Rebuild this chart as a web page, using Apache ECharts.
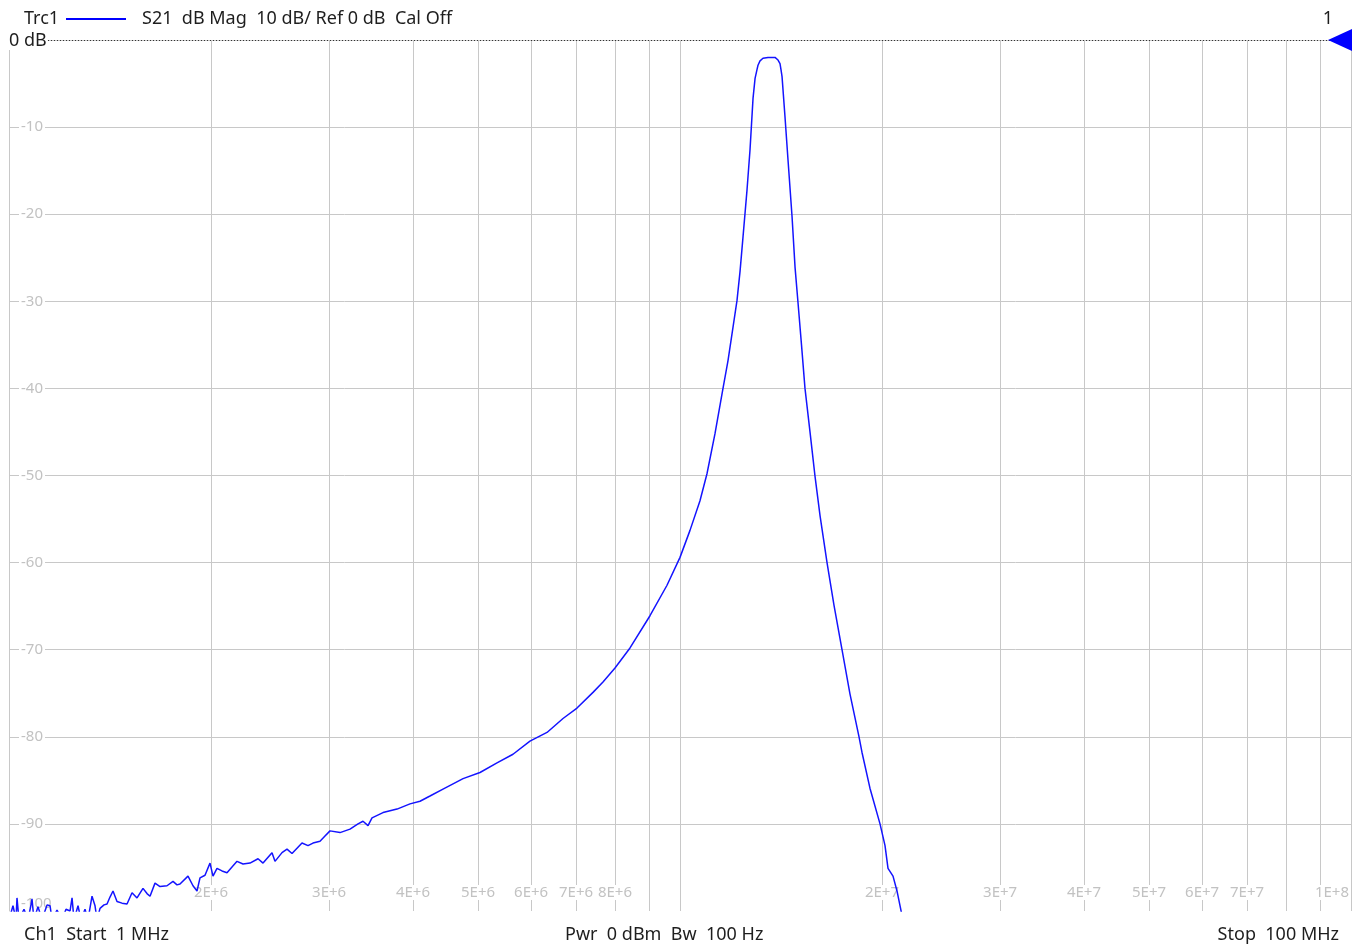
<!DOCTYPE html>
<html><head><meta charset="utf-8">
<script src="https://cdn.jsdelivr.net/npm/echarts@6/dist/echarts.min.js"></script>
<style>html,body{margin:0;padding:0;background:#fff;}#c{width:1359px;height:948px;}</style>
</head><body><div id="c"></div>
<script>
// Frequency of each trace point (MHz)
const freqMHz = [
  1.000, 1.0138, 1.0243, 1.0278, 1.0349, 1.0528, 1.0674, 1.0784, 1.0821, 1.0895,
  1.1046, 1.1199, 1.1395, 1.1513, 1.1592, 1.1791, 1.1995, 1.2161, 1.2330, 1.2415,
  1.2500, 1.2672, 1.2803, 1.2980, 1.3114, 1.3296, 1.3434, 1.3526, 1.3666, 1.3855,
  1.3999, 1.4143, 1.4289, 1.4487, 1.4738, 1.4993, 1.5253, 1.5516, 1.5838, 1.6057,
  1.6224, 1.6504, 1.6790, 1.7198, 1.7556, 1.7798, 1.7982, 1.8483, 1.8803, 1.9063,
  1.9260, 1.9593, 1.9932, 2.0138, 2.0417, 2.0771, 2.1130, 2.1868, 2.2323, 2.2866,
  2.3504, 2.3911, 2.4658, 2.4913, 2.5519, 2.5961, 2.6410, 2.7332, 2.7900, 2.8383,
  2.9073, 2.9575, 3.0087, 3.1139, 3.2226, 3.3124, 3.3697, 3.4281, 3.4754, 3.6091,
  3.7869, 3.9593, 4.0975, 4.2405, 4.4340, 4.7500, 5.0343, 5.3366, 5.6380, 5.9759,
  6.3357, 6.6933, 7.0225, 7.4190, 7.6778, 8.0008, 8.4235, 9.0214, 9.5639, 10.000,
  10.349, 10.710, 10.970, 11.276, 11.590, 11.791, 11.994, 12.161, 12.287, 12.414,
  12.586, 12.716, 12.848, 12.938, 13.024, 13.069, 13.160, 13.295, 13.526, 13.855,
  13.999, 14.094, 14.142, 14.193, 14.340, 14.488, 14.689, 14.841, 14.994, 15.173,
  15.356, 15.622, 15.894, 16.169,
  16.562, 16.964, 17.436, 17.921, 18.484, 18.675, 19.191, 19.865, 20.209, 20.417,
  20.771, 21.056, 21.421
];
// S21 magnitude (dB)
const s21dB = [
  -101, -99.4, -101, -98.5, -101, -99.8, -101, -99.3, -98.6, -101,
  -99.5, -101, -99.3, -99.4, -101, -99.9, -101, -99.8, -100.0, -98.5,
  -101, -99.4, -101, -99.8, -101, -98.3, -99.4, -101, -99.7, -99.3,
  -99.2, -98.4, -97.7, -98.9, -99.1, -99.2, -97.9, -98.5, -97.4, -98.0,
  -98.3, -96.8, -97.2, -97.1, -96.6, -97.0, -96.9, -96.0, -97.1, -97.7,
  -96.2, -95.9, -94.5, -96.0, -95.1, -95.4, -95.6, -94.3, -94.6, -94.5,
  -94.0, -94.5, -93.3, -94.3, -93.3, -92.9, -93.4, -92.2, -92.5, -92.2,
  -92.0, -91.4, -90.8, -91.0, -90.6, -90.0, -89.7, -90.2, -89.3, -88.7,
  -88.3, -87.7, -87.4, -86.8, -86.0, -84.8, -84.1, -83.0, -82.0, -80.5,
  -79.5, -77.9, -76.7, -74.9, -73.7, -72.1, -69.8, -66.1, -62.6, -59.4,
  -56.3, -52.9, -49.8, -45.2, -40.0, -36.8, -33.0, -29.9, -26.6, -22.6,
  -17.2, -12.6, -6.7, -4.4, -3.4, -2.9, -2.4, -2.1, -2.0, -2.0,
  -2.3, -2.7, -3.4, -4.2, -8.9, -13.8, -20.3, -26.1, -30.2, -35.0,
  -40.0, -45.0, -50.1, -54.6,
  -60.0, -64.9, -70.0, -75.1, -80.0, -81.8, -85.9, -90.0, -92.5, -95.1,
  -96.0, -97.7, -100.5
];
const xGridValues = [2e6,3e6,4e6,5e6,6e6,7e6,8e6,9e6,1e7,2e7,3e7,4e7,5e7,6e7,7e7,8e7,9e7,1e8];
const xLabelValues = [2e6,3e6,4e6,5e6,6e6,7e6,8e6,2e7,3e7,4e7,5e7,6e7,7e7,1e8];
const yGridValues = [-90,-80,-70,-60,-50,-40,-30,-20,-10];
const yLabelValues = [-100,-90,-80,-70,-60,-50,-40,-30,-20,-10];
const refLevelDb = 0;
const traceName = 'Trc1';
const headerText = 'S21  dB Mag  10 dB/ Ref 0 dB  Cal Off';
const markerNumber = '1';
const refLabel = '0 dB';
const footerLeft = 'Ch1  Start  1 MHz';
const footerMid = 'Pwr  0 dBm  Bw  100 Hz';
const footerRight = 'Stop  100 MHz';

const FONT = '"Noto Sans", "Open Sans", sans-serif';
const GRID = '#c8c8c8';
const LBL = '#c2c2c2';
const TXT = '#1e1e1e';
const TRACE = '#1414ff';
const TFONT = '18px ' + FONT;

const seriesData = freqMHz.map((f, i) => [f * 1e6, s21dB[i]]);

function fmtE(v) {
  const e = Math.floor(Math.log10(v) + 1e-9);
  const m = Math.round(v / Math.pow(10, e));
  return m + 'E+' + e;
}

const chart = echarts.init(document.getElementById('c'), null, {renderer: 'canvas'});
chart.setOption({
  animation: false,
  backgroundColor: '#fff',
  textStyle: {fontFamily: FONT},
  grid: {left: 9, right: 8, top: 40, bottom: 37, containLabel: false},
  xAxis: {
    type: 'log', logBase: 10, min: 1e6, max: 1e8,
    axisLine: {show: true, lineStyle: {color: GRID, width: 1}},
    axisTick: {show: false, customValues: xGridValues},
    minorTick: {show: false},
    splitLine: {show: true, lineStyle: {color: GRID, width: 1}},
    axisLabel: {
      show: true, inside: true, customValues: xLabelValues, margin: 11,
      color: LBL, fontSize: 15, fontFamily: FONT,
      backgroundColor: '#fff', padding: [0, 2],
      formatter: fmtE, alignMaxLabel: 'right'
    }
  },
  yAxis: {
    type: 'value', min: -100, max: 0, interval: 10,
    axisLine: {show: true, lineStyle: {color: GRID, width: 1}},
    axisTick: {show: false, customValues: yGridValues},
    splitLine: {show: true, lineStyle: {color: GRID, width: 1}},
    axisLabel: {
      show: true, inside: true, customValues: yLabelValues, margin: 10,
      color: LBL, fontSize: 15, fontFamily: FONT,
      backgroundColor: '#fff', padding: [0, 2],
      verticalAlignMinLabel: 'bottom'
    }
  },
  series: [{
    type: 'line',
    data: seriesData,
    showSymbol: false,
    clip: true,
    smooth: false,
    lineStyle: {color: TRACE, width: 1.5},
    itemStyle: {color: TRACE},
    z: 5,
    markLine: {
      silent: true, symbol: ['none', 'none'], label: {show: false},
      lineStyle: {color: '#333', type: [1, 2], width: 1},
      data: [{yAxis: refLevelDb}]
    },
    markPoint: {
      silent: true, symbol: 'triangle', symbolSize: [22, 24], symbolRotate: 90,
      symbolOffset: [-11, 0], itemStyle: {color: '#0000ff'}, label: {show: false},
      data: [{coord: [1e8, refLevelDb]}]
    }
  }],
  graphic: [
    {type: 'text', z: 100, style: {text: traceName, x: 24, y: 19, textVerticalAlign: 'middle', fill: TXT, font: TFONT}},
    {type: 'line', z: 100, shape: {x1: 66, y1: 19, x2: 126, y2: 19}, style: {stroke: '#0000ff', lineWidth: 2}},
    {type: 'text', z: 100, style: {text: headerText, x: 142, y: 19, textVerticalAlign: 'middle', fill: TXT, font: TFONT}},
    {type: 'text', z: 100, style: {text: markerNumber, x: 1328, y: 19, textAlign: 'center', textVerticalAlign: 'middle', fill: TXT, font: TFONT}},
    {type: 'text', z: 100, style: {text: refLabel, x: 8, y: 41, textVerticalAlign: 'middle', fill: TXT, font: TFONT, backgroundColor: '#fff', padding: [0, 1]}},
    {type: 'text', z: 100, style: {text: footerLeft, x: 24, y: 935, textVerticalAlign: 'middle', fill: TXT, font: TFONT}},
    {type: 'text', z: 100, style: {text: footerMid, x: 565, y: 935, textVerticalAlign: 'middle', fill: TXT, font: TFONT}},
    {type: 'text', z: 100, style: {text: footerRight, x: 1339, y: 935, textAlign: 'right', textVerticalAlign: 'middle', fill: TXT, font: TFONT}}
  ]
});
</script>
</body></html>
